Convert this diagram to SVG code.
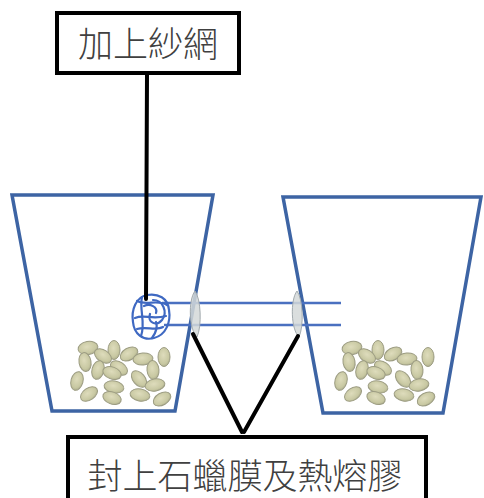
<svg xmlns="http://www.w3.org/2000/svg" width="484" height="498" viewBox="0 0 484 498">
  <style>
    .box { fill: #ffffff; stroke: #000000; stroke-width: 4; }
    .label { font-family: "Noto Sans CJK TC", "Noto Sans CJK SC", sans-serif; font-size: 35px; font-weight: 300; fill: #404040; text-anchor: middle; }
    .cup { fill: none; stroke: #3d64a4; stroke-width: 3.5; stroke-linejoin: miter; }
    .tube { stroke: #4a70c0; stroke-width: 2.5; }
    .lead { fill: none; stroke: #000000; stroke-width: 4; stroke-linecap: round; }
    .net { fill: none; stroke: #3f69c2; stroke-width: 2.2; stroke-linecap: round; stroke-linejoin: round; }
    .seal { fill: #d3d8d8; fill-opacity: 0.85; stroke: #a2aaae; stroke-width: 1; }
    .bean { fill: url(#beanFill); stroke: #9c9c82; stroke-width: 1; }
  </style>
  <defs>
    <radialGradient id="beanFill" cx="0.45" cy="0.4" r="0.65">
      <stop offset="0" stop-color="#dedcbc"/>
      <stop offset="0.7" stop-color="#c8c8a2"/>
      <stop offset="1" stop-color="#a9aa8a"/>
    </radialGradient>
    <!-- pile of seeds at the bottom of a cup -->
    <g id="seeds">
      <ellipse class="bean" cx="88" cy="348" rx="10" ry="6.5" transform="rotate(-10 88 348)"/>
      <ellipse class="bean" cx="114" cy="350" rx="6" ry="9.5"/>
      <ellipse class="bean" cx="103" cy="356" rx="9.5" ry="6" transform="rotate(35 103 356)"/>
      <ellipse class="bean" cx="129" cy="354" rx="9.5" ry="6" transform="rotate(-30 129 354)"/>
      <ellipse class="bean" cx="143" cy="359" rx="10" ry="6" transform="rotate(-5 143 359)"/>
      <ellipse class="bean" cx="164" cy="357" rx="6" ry="9.5"/>
      <ellipse class="bean" cx="85" cy="362" rx="6" ry="9.5" transform="rotate(-10 85 362)"/>
      <ellipse class="bean" cx="98" cy="370" rx="6" ry="9.5" transform="rotate(15 98 370)"/>
      <ellipse class="bean" cx="119" cy="368" rx="9.5" ry="6" transform="rotate(35 119 368)"/>
      <ellipse class="bean" cx="112" cy="373" rx="9.5" ry="6" transform="rotate(20 112 373)"/>
      <ellipse class="bean" cx="153" cy="370" rx="6" ry="9.5" transform="rotate(-5 153 370)"/>
      <ellipse class="bean" cx="77" cy="381" rx="6" ry="9.5" transform="rotate(15 77 381)"/>
      <ellipse class="bean" cx="139" cy="379" rx="9.5" ry="6" transform="rotate(50 139 379)"/>
      <ellipse class="bean" cx="155" cy="385" rx="10" ry="6" transform="rotate(-10 155 385)"/>
      <ellipse class="bean" cx="114" cy="387" rx="10" ry="6" transform="rotate(10 114 387)"/>
      <ellipse class="bean" cx="89" cy="394" rx="9.5" ry="6" transform="rotate(-35 89 394)"/>
      <ellipse class="bean" cx="112" cy="398" rx="9.5" ry="6" transform="rotate(20 112 398)"/>
      <ellipse class="bean" cx="140" cy="395" rx="10" ry="6" transform="rotate(10 140 395)"/>
      <ellipse class="bean" cx="162" cy="399" rx="9.5" ry="6" transform="rotate(-30 162 399)"/>
    </g>
  </defs>

  <rect width="484" height="498" fill="#ffffff"/>

  <!-- left cup -->
  <g id="cup-left">
    <polygon class="cup" points="12,195 213,195 175,411 52,411"/>
    <use href="#seeds"/>
  </g>

  <!-- right cup -->
  <g id="cup-right">
    <polygon class="cup" points="283,197 481,197 443,413 323,413"/>
    <use href="#seeds" transform="translate(264 0)"/>
  </g>

  <!-- connecting tubes -->
  <g id="tubes">
    <line class="tube" x1="162" y1="303" x2="341" y2="303"/>
    <line class="tube" x1="164" y1="325" x2="341" y2="325"/>
  </g>

  <!-- wax film / hot glue seals where the tubes pass the cup walls -->
  <g id="seal-left">
    <path class="seal" d="M195,291 C201,299 202,326 197,337 C189,330 188,300 195,291 Z"/>
  </g>
  <g id="seal-right">
    <path class="seal" d="M297,291 C303,299 304,326 299,337 C291,330 290,300 297,291 Z"/>
  </g>

  <!-- mesh cap on the tube end -->
  <g id="net">
    <path class="net" d="M147,295 C158,293 168,298 169,310 C171,322 166,335 154,338 C143,341 134,334 133,322 C131,310 136,297 147,295 Z"/>
    <path class="net" d="M137,301 C146,306 158,299 167,305"/>
    <path class="net" d="M153,300 C163,300 168,312 162,320 C156,327 147,322 150,314"/>
    <path class="net" d="M135,318 C144,314 152,320 166,316"/>
    <path class="net" d="M137,329 C146,326 156,331 163,327"/>
    <path class="net" d="M142,297 C139,310 146,323 141,336"/>
    <path class="net" d="M156,322 C158,328 155,334 152,338"/>
    <path class="net" d="M144,306 C150,303 158,307 156,313" stroke="#6a63b0"/>
  </g>

  <!-- leader lines -->
  <g id="connectors">
    <line class="lead" x1="147" y1="75" x2="146" y2="299"/>
    <line class="lead" x1="193" y1="334" x2="242" y2="432"/>
    <line class="lead" x1="298" y1="336" x2="244" y2="432"/>
  </g>

  <g id="label-net">
    <rect class="box" x="57" y="13" width="182" height="60"/>
    <text class="label" x="148" y="57">加上紗網</text>
  </g>

  <g id="label-seal">
    <rect class="box" x="68" y="437" width="358" height="66"/>
    <text class="label" x="245" y="489">封上石蠟膜及熱熔膠</text>
  </g>
</svg>
